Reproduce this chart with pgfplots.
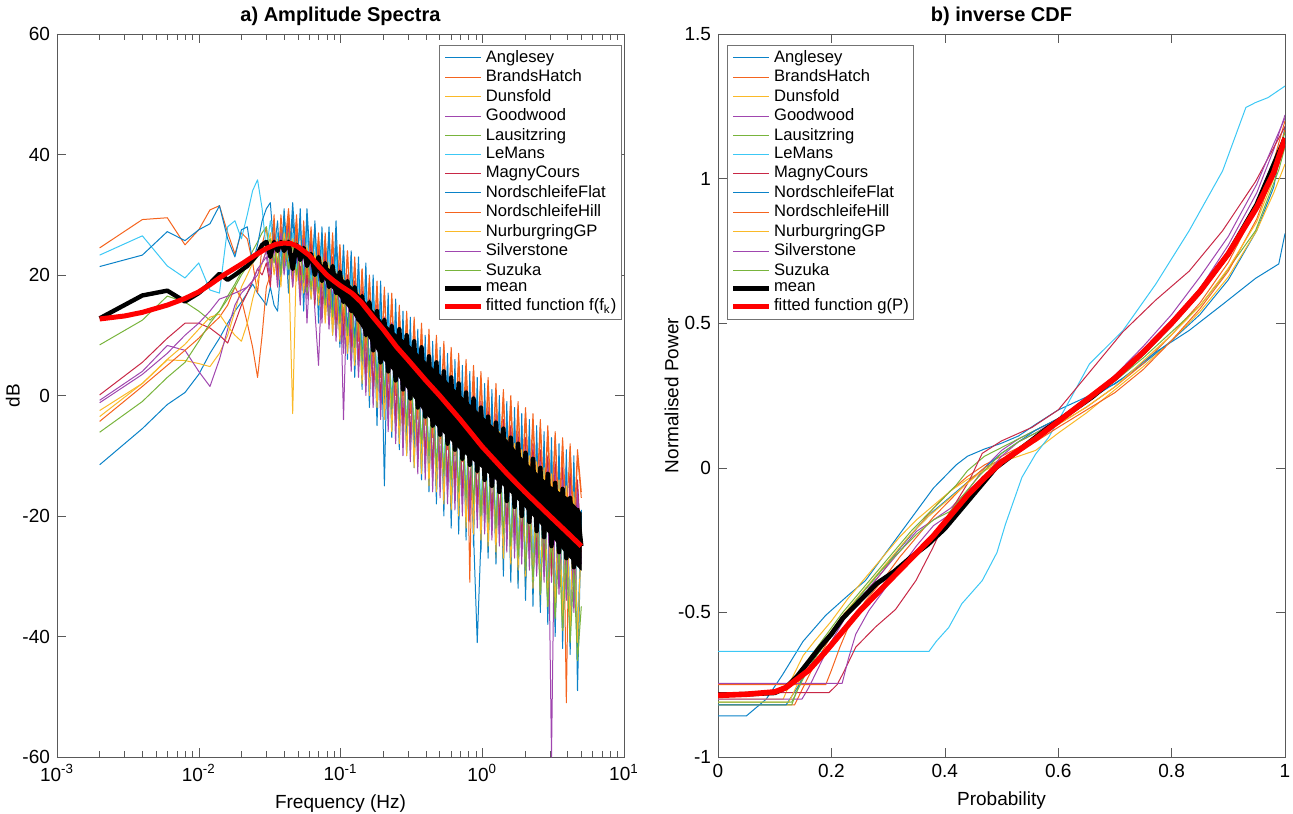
\documentclass[border=0pt]{standalone}
\usepackage{fontspec}
\setmainfont{Liberation Sans}
\usepackage{pgfplots}
\usepackage{pgfplotstable}
\pgfplotsset{compat=1.18}
\definecolor{c1}{RGB}{10,130,200}
\definecolor{c2}{RGB}{245,100,30}
\definecolor{c3}{RGB}{250,185,40}
\definecolor{c4}{RGB}{160,70,175}
\definecolor{c5}{RGB}{120,180,60}
\definecolor{c6}{RGB}{60,200,245}
\definecolor{c7}{RGB}{200,40,70}

\pgfplotstableread{
f s1 s2 s3 s4 s5 s6 s7 s8 s9 s10 s11 s12 m
0.002 -11.5 24.5 -2.5 -0.8 8.4 23.3 0.1 21.4 -4.3 -3.5 -1.2 -6.1 12.8
0.004 -5.5 29.2 2 4 12.5 26.5 5.5 23.3 1.5 2 3.5 -1 16.6
0.006 -1.5 29.5 5.9 8.3 16.5 21.5 9.5 27.2 5 6 7 3 17.4
0.008 0.5 25 5.8 7.5 15.5 19.5 12 25.7 7.5 8.5 10 5.5 15.6
0.010 3.5 27.5 5.3 4 14 22 12 27.5 9.5 11 12 9 17
0.012 7 30.8 4.8 1.5 12.5 17.5 11.2 28.5 11.5 13 14 12 18.6
0.014 9.5 31.5 7 6 14 17 10 31.5 13 13.5 16 14 20.2
0.016 12 27 10 11 16.5 28 8.7 26 15 11.5 16.5 16 19.2
0.018 14 23.5 14 15 18.5 29 12 23 18 10 17 18 20
0.020 15.5 27 18 17 20.5 26 15 27.5 16 9 17.5 20 20.8
0.022 17 26 20 18 22 30 17 28 12 12 18 21.5 21.5
0.024 18.5 22 22 19 24 34 19 22 8 16 19 22 22.5
0.026 17 17 23.5 20 25.5 35.8 21 25 3 19 21 23 23.5
0.028 16 25 25 22 27 31 20 29 10 22 22 24 25
0.030 15 28 24 23 28 24 22 31 18 24 24 25 25.5
0.032 18 22 27 19 21 29 18 32 20 26 20 26 23
0.034 15 29 22 26 27 24 27 24 30 20 25 22 25.5
0.036 14 20 26 21 22 27 20 29 18 25 18 25 24
0.038 22 30 20 27 26 23 28 19 28 18 27 20 25.5
0.040 30 24 28 22 21 28 23 31 22 27 20 26 24
0.043 17 31 23 28 27 22 29 20 30 21 26 21 25.5
0.046 30 22 -3 20 20 27 21 32 18 26 18 25 21
0.049 19 30 24 27 26 21 27 22 29 19 25 20 25
0.052 31 17 27 18 19 28 20 29 16 25 15 24 22.5
0.055 14 29 19 26 25 20 27 18 28 17 26 19 24.5
0.058 30 19 25 16 17 27 18 31 20 24 12 23 21.5
0.062 16 28 18 25 24 19 26 20 27 16 24 18 23.5
0.066 29 18 24 14 16 26 15 28 17 23 16 22 20
0.070 12 27 17 5 23 18 25 19 26 15 23 17 23
0.074 28 17 23 20 14 25 14 27 18 22 12 21 19
0.078 14 26 13 24 22 17 24 16 27 12 22 15 22
0.083 27 16 23 13 12 24 16 28 15 21 11 20 18
0.088 10 27 12 23 21 15 23 14 26 10 21 13 21.5
0.093 26 14 21 10 10 23 12 29 13 20 9 19 17
0.099 8 25 10 22 20 13 21 12 25 9 20 12 20.5
0.105 24 12 20 -4 8 22 10 25 12 19 7 18 15.5
0.112 6 24 8 20 19 11 20 10 24 7 19 10 19
0.119 23 10 19 9 6 21 8 24 11 18 4 16 14
0.126 3 22 6 19 18 9 19 8 23 5 18 8 18
0.134 21 9 18 6 5 20 5 23 10 17 3 15 12.5
0.142 1 21 4 17 16 6 18 5 21 2 16 6 16.5
0.151 20 7 16 4 2 18 3 22 9 15 0 13 10
0.160 -2 19 2 16 15 4 16 3 20 0 15 4 15.5
0.170 18 5 15 1 0 17 1 20 7 14 -2 12 7.5
0.181 -5 18 0 14 13 2 15 0 19 -2 14 2 14
0.192 16 3 13 -1 -2 15 -1 19 5 12 -4 10 5.5
0.204 -15 17 -2 13 12 0 13 -3 18 -4 13 0 12.5
0.217 15 2 12 -3 -3 14 -2 17 4 11 -6 9 4
0.230 -7 16 -4 12 11 -2 12 -5 17 -6 12 -2 11.5
0.245 14 0 10 -5 -5 12 -4 16 2 9 -8 8 2.5
0.260 -9 14 -6 11 9 -4 10 -7 15 -8 10 -4 11
0.276 12 -1 9 -7 -6 11 -5 14 1 8 -10 6 1
0.293 -10 13 -8 9 8 -6 9 -9 14 -10 9 -5 10
0.311 11 -3 8 -9 -8 10 -7 13 0 7 -11 5 -0.5
0.331 -12 12 -10 8 7 -8 8 -11 13 -12 8 -6 9
0.351 9 -4 6 -11 -9 8 -10 11 -1 5 -13 3 -2
0.373 -13 11 -12 7 6 -9 7 -14 12 -13 7 -8 8
0.396 8 -5 5 -12 -10 7 -11 10 -2 4 -14 2 -3.5
0.421 -15 10 -14 5 5 -11 6 -16 11 -15 5 -10 6.5
0.447 7 -7 4 -14 -12 6 -13 9 -3 3 -16 1 -5
0.475 -16 9 -15 4 4 -13 5 -18 10 -16 4 -12 5.5
0.504 6 -8 3 -15 -13 5 -14 8 -4 2 -17 -1 -6.5
0.536 -18 8 -17 3 2 -14 4 -20 9 -18 3 -13 4
0.569 5 -9 2 -16 -14 4 -15 7 -5 1 -18 -2 -8
0.604 -19 7 -18 2 1 -16 3 -22 8 -19 1 -14 3
0.642 4 -10 1 -17 -15 3 -16 6 -6 0 -19 -3 -9
0.682 -20 6 -19 1 0 -17 2 -23 7 -20 0 -16 2
0.724 3 -11 0 -18 -16 2 -17 5 -7 -1 -20 -4 -10.5
0.769 -22 5 -21 0 -1 -18 1 -24 6 -22 -1 -17 0.5
0.817 2 -31 -1 -19 -17 1 -18 4 -8 -2 -21 -5 -11.5
0.868 -23 4 -22 -1 -2 -20 0 -25 5 -23 -2 -18 -0.5
0.922 -41 -13 -2 -20 -18 0 -19 3 -9 -3 -22 -6 -12.5
0.979 -24 3 -24 -2 -3 -21 -1 -26 4 -24 -3 -20 -2
1.04 0 -14 -3 -21 -19 -1 -20 2 -10 -4 -23 -8 -14
1.10 -25 2 -26 -3 -4 -22 -2 -27 3 -25 -4 -21 -3.5
1.17 -1 -15 -4 -22 -20 -2 -21 1 -11 -5 -24 -9 -15
1.25 -26 1 -27 -4 -5 -24 -3 -28 2 -26 -5 -22 -4.5
1.32 -2 -16 -5 -23 -21 -3 -22 0 -12 -6 -25 -10 -16
1.41 -27 0 -28 -5 -6 -25 -4 -30 1 -27 -6 -23 -5.5
1.49 -3 -17 -6 -24 -22 -4 -23 -1 -13 -7 -26 -11 -17.5
1.59 -28 -1 -29 -6 -7 -26 -5 -31 0 -28 -7 -25 -7
1.69 -4 -18 -7 -25 -23 -5 -24 -2 -14 -8 -27 -13 -18.5
1.79 -30 -2 -31 -7 -8 -27 -6 -32 -1 -29 -8 -27 -8
1.90 -5 -19 -8 -26 -24 -6 -25 -3 -15 -9 -28 -15 -20
2.02 -31 -3 -32 -8 -9 -29 -7 -34 -2 -30 -9 -29 -9.5
2.15 -6 -20 -9 -27 -25 -7 -26 -4 -16 -10 -29 -17 -21
2.28 -32 -4 -33 -9 -10 -30 -8 -35 -3 -32 -10 -31 -10.5
2.42 -7 -21 -10 -29 -27 -8 -27 -5 -17 -11 -30 -19 -22.5
2.57 -34 -5 -35 -10 -11 -31 -9 -36 -4 -33 -11 -33 -12
2.73 -8 -22 -11 -30 -28 -9 -28 -6 -18 -12 -31 -21 -23.5
2.90 -35 -6 -36 -11 -12 -33 -10 -38 -5 -35 -12 -35 -13
3.08 -9 -23 -12 -31 -29 -10 -30 -7 -19 -13 -60 -23 -25
3.27 -37 -7 -38 -12 -13 -34 -11 -40 -6 -36 -13 -37 -14.5
3.48 -10 -24 -13 -32 -30 -11 -31 -8 -20 -14 -33 -25 -26
3.69 -39 -8 -40 -13 -14 -36 -12 -42 -7 -38 -14 -39 -15.5
3.92 -11 -51 -14 -33 -31 -12 -32 -9 -21 -15 -34 -27 -27
4.17 -41 -9 -41 -14 -15 -38 -13 -43 -8 -39 -15 -41 -17
4.43 -12 -26 -15 -35 -33 -13 -34 -10 -22 -16 -36 -29 -28.5
4.70 -49 -10 -43 -15 -16 -40 -14 -44 -9 -41 -16 -44 -19
5.00 -20 -17 -22 -28 -24 -21 -26 -19 -16 -23 -27 -35 -25
}\spec

% band of the mean spectrum (upper edge forward, lower edge back)
\pgfplotstableread{
f band
0.07 22
0.09 20.5
0.12 18
0.15 15.5
0.2 12
0.25 10
0.3 8.5
0.4 5.5
0.5 3.5
0.7 0
1 -3.5
1.5 -7.5
2 -11
3 -15
4 -17
5 -19.5
5 -29
4 -26.5
3 -23
2 -18.5
1.5 -15.5
1 -12
0.7 -9
0.5 -5.5
0.4 -3
0.3 1
0.25 3.5
0.2 6
0.15 10.5
0.12 14
0.09 17.5
0.07 20.5
}\band

\pgfplotsset{
  panel/.style={
    scale only axis, width=283.5pt, height=361.5pt, anchor=south west,
    axis line style={black!65}, tick style={black!65}, tick align=inside,
    every tick label/.append style={font=\fontsize{9.5}{11}\selectfont},
    label style={font=\fontsize{9.5}{11}\selectfont},
    title style={font=\bfseries\fontsize{10}{12}\selectfont, yshift=-5.5pt},
    /pgf/number format/assume math mode=true,
    no markers,
    every axis plot/.append style={line join=round},
    legend cell align=left,
    legend image code/.code={\draw[#1] (0pt,0pt) -- (18pt,0pt);},
    legend style={draw=black!55, fill=white, font=\fontsize{8.3}{9}\selectfont,
      inner sep=1.5pt,
      nodes={inner ysep=1.1pt, inner xsep=1pt}, row sep=0pt},
  },
  thin line/.style={line width=0.5pt},
}

\begin{document}
\begin{tikzpicture}
\path[use as bounding box] (0pt,0pt) rectangle (646.5pt,406.5pt);
\begin{axis}[panel, at={(28.5pt,28pt)},
  xmode=log, xmin=0.001, xmax=10, ymin=-60, ymax=60,
  ytick={-60,-40,-20,0,20,40,60},
  xtick={0.001,0.01,0.1,1,10},
  xticklabels={10\textsuperscript{-3},10\textsuperscript{-2},10\textsuperscript{-1},10\textsuperscript{0},10\textsuperscript{1}},
  xlabel={Frequency (Hz)}, ylabel={dB}, ylabel shift=-5.5pt,
  title={a) Amplitude Spectra},
  legend style={at={(0.996,0.985)}, anchor=north east},
]
\addplot[c1, thin line] table[x=f,y=s1]{\spec};
\addplot[c2, thin line] table[x=f,y=s2]{\spec};
\addplot[c3, thin line] table[x=f,y=s3]{\spec};
\addplot[c4, thin line] table[x=f,y=s4]{\spec};
\addplot[c5, thin line] table[x=f,y=s5]{\spec};
\addplot[c6, thin line] table[x=f,y=s6]{\spec};
\addplot[c7, thin line] table[x=f,y=s7]{\spec};
\addplot[c1, thin line] table[x=f,y=s8]{\spec};
\addplot[c2, thin line] table[x=f,y=s9]{\spec};
\addplot[c3, thin line] table[x=f,y=s10]{\spec};
\addplot[c4, thin line] table[x=f,y=s11]{\spec};
\addplot[c5, thin line] table[x=f,y=s12]{\spec};
\addplot[black, fill=black, line width=0.4pt, forget plot] table[x=f,y=band]{\band};
\addplot[black, line width=2.2pt] table[x=f,y=m]{\spec};
\addplot[red, line width=2.5pt] coordinates {(0.002,12.7) (0.003,13.2) (0.004,13.8) (0.006,15) (0.008,16.1) (0.01,17.2) (0.012,18.4) (0.015,20) (0.02,21.8) (0.025,23.3) (0.03,24.4) (0.035,25.1) (0.04,25.3) (0.045,25.2) (0.05,24.7) (0.06,23.3) (0.07,21.5) (0.08,20) (0.09,19) (0.1,18.2) (0.12,17) (0.14,15.5) (0.17,13) (0.2,11) (0.25,8) (0.3,5.9) (0.4,2.5) (0.5,0) (0.7,-4) (1,-8.5) (1.5,-13) (2,-16) (3,-20) (4,-22.8) (5,-25)};
\legend{Anglesey,BrandsHatch,Dunsfold,Goodwood,Lausitzring,LeMans,MagnyCours,NordschleifeFlat,NordschleifeHill,NurburgringGP,Silverstone,Suzuka,mean,fitted function f(f\textsubscript{k})}
\end{axis}

\begin{axis}[panel, at={(359pt,28pt)},
  xmin=0, xmax=1, ymin=-1, ymax=1.5,
  ytick={-1,-0.5,0,0.5,1,1.5},
  xtick={0,0.2,0.4,0.6,0.8,1},
  xlabel={Probability}, ylabel={Normalised Power}, ylabel shift=-7pt,
  title={b) inverse CDF},
  legend style={at={(0.016,0.985)}, anchor=north west},
]
\addplot[c1, thin line] coordinates {(0,-0.858) (0.05,-0.858) (0.085,-0.80) (0.114,-0.715) (0.15,-0.60) (0.19,-0.51) (0.23,-0.44) (0.26,-0.39) (0.29,-0.31) (0.32,-0.23) (0.35,-0.15) (0.38,-0.07) (0.40,-0.03) (0.42,0.01) (0.44,0.04) (0.47,0.065) (0.50,0.085) (0.53,0.11) (0.56,0.15) (0.60,0.20) (0.65,0.245) (0.70,0.29) (0.75,0.36) (0.80,0.44) (0.85,0.53) (0.90,0.65) (0.95,0.82) (0.98,0.97) (1.0,1.18)};
\addplot[c2, thin line] coordinates {(0,-0.82) (0.135,-0.82) (0.15,-0.76) (0.17,-0.68) (0.2,-0.58) (0.23,-0.50) (0.26,-0.43) (0.29,-0.36) (0.32,-0.28) (0.35,-0.21) (0.38,-0.14) (0.41,-0.08) (0.44,-0.03) (0.47,0.01) (0.5,0.04) (0.53,0.07) (0.56,0.10) (0.6,0.15) (0.65,0.21) (0.7,0.28) (0.75,0.36) (0.8,0.46) (0.85,0.57) (0.9,0.71) (0.95,0.90) (0.98,1.06) (1.0,1.20)};
\addplot[c3, thin line] coordinates {(0,-0.80) (0.115,-0.80) (0.13,-0.73) (0.15,-0.65) (0.17,-0.60) (0.2,-0.53) (0.23,-0.45) (0.26,-0.38) (0.29,-0.31) (0.32,-0.24) (0.35,-0.18) (0.38,-0.13) (0.41,-0.08) (0.44,-0.04) (0.47,-0.01) (0.5,0.02) (0.53,0.04) (0.56,0.06) (0.6,0.12) (0.65,0.19) (0.7,0.27) (0.75,0.35) (0.8,0.44) (0.85,0.54) (0.9,0.66) (0.95,0.82) (0.98,0.95) (1.0,1.05)};
\addplot[c4, thin line] coordinates {(0,-0.80) (0.148,-0.80) (0.16,-0.76) (0.18,-0.68) (0.2,-0.60) (0.23,-0.50) (0.26,-0.43) (0.29,-0.36) (0.32,-0.29) (0.35,-0.22) (0.38,-0.18) (0.41,-0.14) (0.44,-0.08) (0.47,0.0) (0.5,0.06) (0.53,0.10) (0.56,0.13) (0.6,0.17) (0.65,0.23) (0.7,0.30) (0.75,0.39) (0.8,0.50) (0.85,0.62) (0.9,0.77) (0.95,0.95) (0.98,1.10) (1.0,1.22)};
\addplot[c5, thin line] coordinates {(0,-0.82) (0.13,-0.82) (0.145,-0.74) (0.16,-0.66) (0.19,-0.58) (0.22,-0.50) (0.25,-0.43) (0.28,-0.36) (0.31,-0.29) (0.34,-0.22) (0.37,-0.16) (0.40,-0.10) (0.42,-0.06) (0.44,-0.01) (0.47,0.04) (0.5,0.07) (0.53,0.10) (0.56,0.13) (0.6,0.17) (0.65,0.23) (0.7,0.30) (0.75,0.38) (0.8,0.47) (0.85,0.56) (0.89,0.66) (0.948,0.82) (0.989,1.03) (1.0,1.11)};
\addplot[c6, thin line] coordinates {(0,-0.635) (0.372,-0.635) (0.385,-0.60) (0.407,-0.552) (0.43,-0.47) (0.466,-0.39) (0.492,-0.293) (0.507,-0.195) (0.536,-0.033) (0.56,0.047) (0.583,0.105) (0.613,0.208) (0.655,0.359) (0.714,0.474) (0.772,0.635) (0.831,0.82) (0.89,1.027) (0.931,1.246) (0.948,1.263) (0.97,1.28) (1.0,1.32)};
\addplot[c7, thin line] coordinates {(0,-0.777) (0.196,-0.777) (0.21,-0.75) (0.22,-0.713) (0.243,-0.62) (0.278,-0.55) (0.313,-0.49) (0.349,-0.39) (0.378,-0.28) (0.407,-0.16) (0.443,-0.045) (0.466,0.05) (0.5,0.093) (0.554,0.14) (0.6,0.20) (0.655,0.33) (0.714,0.47) (0.772,0.58) (0.831,0.68) (0.89,0.82) (0.948,0.99) (1.0,1.18)};
\addplot[c1, thin line] coordinates {(0,-0.82) (0.12,-0.82) (0.14,-0.76) (0.17,-0.66) (0.2,-0.57) (0.23,-0.49) (0.26,-0.42) (0.29,-0.35) (0.32,-0.28) (0.35,-0.21) (0.38,-0.15) (0.41,-0.10) (0.44,-0.05) (0.47,0.0) (0.5,0.05) (0.53,0.09) (0.56,0.13) (0.6,0.17) (0.655,0.235) (0.714,0.31) (0.772,0.40) (0.831,0.475) (0.89,0.565) (0.948,0.655) (0.989,0.705) (1.0,0.81)};
\addplot[c2, thin line] coordinates {(0,-0.75) (0.19,-0.75) (0.2,-0.70) (0.215,-0.62) (0.23,-0.55) (0.26,-0.46) (0.29,-0.39) (0.32,-0.31) (0.35,-0.24) (0.38,-0.17) (0.41,-0.11) (0.44,-0.05) (0.47,0.0) (0.5,0.03) (0.53,0.06) (0.56,0.09) (0.6,0.14) (0.65,0.20) (0.7,0.26) (0.75,0.34) (0.8,0.44) (0.85,0.55) (0.9,0.68) (0.95,0.86) (0.98,1.02) (1.0,1.17)};
\addplot[c3, thin line] coordinates {(0,-0.81) (0.125,-0.81) (0.14,-0.75) (0.16,-0.67) (0.19,-0.59) (0.22,-0.51) (0.25,-0.44) (0.28,-0.37) (0.31,-0.30) (0.34,-0.23) (0.37,-0.17) (0.4,-0.12) (0.43,-0.07) (0.46,-0.02) (0.5,0.03) (0.53,0.06) (0.56,0.10) (0.6,0.15) (0.65,0.21) (0.7,0.28) (0.75,0.37) (0.8,0.46) (0.85,0.56) (0.9,0.69) (0.95,0.85) (0.98,1.00) (1.0,1.12)};
\addplot[c4, thin line] coordinates {(0,-0.745) (0.219,-0.745) (0.23,-0.66) (0.243,-0.575) (0.266,-0.494) (0.29,-0.43) (0.32,-0.35) (0.35,-0.27) (0.38,-0.20) (0.41,-0.16) (0.44,-0.10) (0.47,-0.03) (0.5,0.04) (0.53,0.09) (0.56,0.12) (0.6,0.17) (0.65,0.24) (0.7,0.32) (0.75,0.42) (0.8,0.53) (0.85,0.66) (0.9,0.80) (0.95,0.98) (0.98,1.12) (1.0,1.21)};
\addplot[c5, thin line] coordinates {(0,-0.81) (0.13,-0.81) (0.15,-0.73) (0.17,-0.66) (0.2,-0.58) (0.23,-0.49) (0.26,-0.42) (0.29,-0.35) (0.32,-0.29) (0.35,-0.23) (0.38,-0.18) (0.41,-0.15) (0.43,-0.10) (0.46,-0.03) (0.5,0.05) (0.53,0.09) (0.56,0.12) (0.6,0.16) (0.65,0.23) (0.7,0.30) (0.75,0.39) (0.8,0.49) (0.85,0.60) (0.9,0.73) (0.95,0.90) (0.98,1.04) (1.0,1.16)};
\addplot[black, line width=2.4pt] coordinates {(0,-0.785) (0.05,-0.783) (0.1,-0.778) (0.12,-0.76) (0.14,-0.72) (0.16,-0.67) (0.18,-0.62) (0.2,-0.575) (0.22,-0.52) (0.25,-0.46) (0.28,-0.40) (0.31,-0.36) (0.34,-0.31) (0.37,-0.265) (0.40,-0.21) (0.43,-0.14) (0.46,-0.07) (0.49,0.0) (0.52,0.045) (0.55,0.09) (0.58,0.135) (0.62,0.19) (0.66,0.245) (0.70,0.31) (0.75,0.40) (0.8,0.50) (0.85,0.61) (0.9,0.74) (0.95,0.91) (1.0,1.14)};
\addplot[red, line width=2.8pt] coordinates {(0,-0.787) (0.05,-0.783) (0.1,-0.775) (0.12,-0.76) (0.14,-0.73) (0.16,-0.70) (0.19,-0.635) (0.22,-0.565) (0.25,-0.495) (0.29,-0.415) (0.32,-0.355) (0.35,-0.295) (0.38,-0.235) (0.41,-0.165) (0.44,-0.095) (0.47,-0.035) (0.5,0.02) (0.53,0.06) (0.56,0.10) (0.6,0.16) (0.65,0.235) (0.7,0.31) (0.75,0.40) (0.8,0.50) (0.85,0.61) (0.9,0.74) (0.95,0.90) (0.98,1.02) (1.0,1.14)};
\legend{Anglesey,BrandsHatch,Dunsfold,Goodwood,Lausitzring,LeMans,MagnyCours,NordschleifeFlat,NordschleifeHill,NurburgringGP,Silverstone,Suzuka,mean,fitted function g(P)}
\end{axis}
\end{tikzpicture}
\end{document}
